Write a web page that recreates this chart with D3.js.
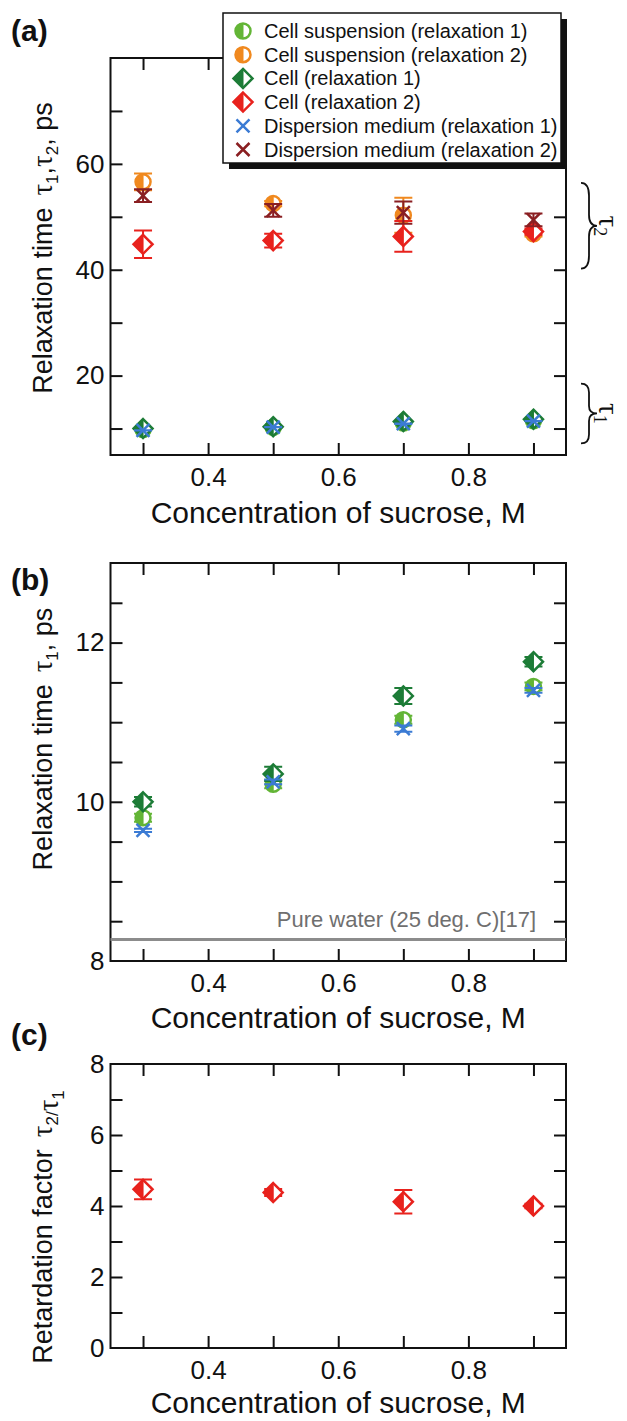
<!DOCTYPE html>
<html>
<head>
<meta charset="utf-8">
<script src="https://cdn.jsdelivr.net/npm/d3@7"></script>
<style>
  body { margin: 0; background: #fff; }
  text { font-family: "Liberation Sans", Arial, sans-serif; }
</style>
</head>
<body>
<svg id="chart" width="627" height="1421"></svg>
<script>
// sucrose concentration, M
const conc = [0.3, 0.5, 0.7, 0.9];

// relaxation 1, ps
const cellSusp1 = [9.8, 10.22, 11.03, 11.45];
const cellSusp1Err = [0.05, 0.05, 0.05, 0.05];
const cell1 = [10.0, 10.35, 11.33, 11.76];
const cell1Err = [0.06, 0.09, 0.1, 0.06];
const disp1 = [9.64, 10.25, 10.92, 11.4];
const disp1Err = [0.02, 0.03, 0.04, 0.03];

// relaxation 2, ps
const cellSusp2 = [56.6, 52.5, 50.3, 46.8];
const cellSusp2Err = [1.6, 0.5, 3.3, 0.5];
const cell2 = [44.8, 45.5, 46.3, 47.2];
const cell2Err = [2.6, 1.3, 2.9, 0.6];
const disp2 = [54.0, 51.2, 50.8, 49.4];
const disp2Err = [1.2, 1.2, 2.1, 1.2];

// retardation factor tau2/tau1 (cell)
const ratio = [4.47, 4.38, 4.12, 4.0];
const ratioErr = [0.28, 0.1, 0.33, 0.06];

// pure water tau1 (25 deg. C)
const pureWater = 8.27;

// legend
const seriesNames = [
  "Cell suspension (relaxation 1)",
  "Cell suspension (relaxation 2)",
  "Cell (relaxation 1)",
  "Cell (relaxation 2)",
  "Dispersion medium (relaxation 1)",
  "Dispersion medium (relaxation 2)"
];
const seriesShapes = ["circle", "circle", "diamond", "diamond", "cross", "cross"];
const seriesColors = ["#63b536", "#f0891f", "#1d7c37", "#e8221d", "#3b7bd4", "#8a1f22"];

// ticks
const xTicks = [0.3, 0.4, 0.5, 0.6, 0.7, 0.8, 0.9];
const xLabels = [0.4, 0.6, 0.8];
const yTicksA = [10, 20, 30, 40, 50, 60, 70];
const yLabelsA = [20, 40, 60];
const yTicksB = [8.5, 9, 9.5, 10, 10.5, 11, 11.5, 12, 12.5];
const yLabelsB = [8, 10, 12];
const yTicksC = [1, 2, 3, 4, 5, 6, 7];
const yLabelsC = [0, 2, 4, 6, 8];

// brace ranges in panel (a)
const braceTau2 = [40.2, 56.4];
const braceTau1 = [7.2, 18.5];

const svg = d3.select("#chart");

const x = d3.scaleLinear().domain([0.25, 0.95]).range([110.5, 566]);
const yA = d3.scaleLinear().domain([5, 80]).range([455, 58]);
const yB = d3.scaleLinear().domain([8, 13]).range([961, 563]);
const yC = d3.scaleLinear().domain([0, 8]).range([1348, 1064]);

const has = (arr, v) => arr.some(a => Math.abs(a - v) < 1e-9);

function drawFrame(y, yTicks, yLabels, yFmt) {
  const [y0, y1] = y.range();
  const g = svg.append("g");
  const allY = yTicks.concat(yLabels.filter(v => !has(yTicks, v)));

  g.append("g")
    .attr("transform", "translate(0," + y0 + ")")
    .call(d3.axisBottom(x).tickValues(xTicks).tickSize(-12).tickPadding(13)
      .tickFormat(d => has(xLabels, d) ? d3.format(".1f")(d) : ""));
  g.append("g")
    .attr("transform", "translate(0," + y1 + ")")
    .call(d3.axisTop(x).tickValues(xTicks).tickSize(-12).tickFormat(""));
  g.append("g")
    .attr("transform", "translate(" + x.range()[0] + ",0)")
    .call(d3.axisLeft(y).tickValues(allY).tickSize(-12).tickPadding(6)
      .tickFormat(d => has(yLabels, d) ? yFmt(d) : ""));
  g.append("g")
    .attr("transform", "translate(" + x.range()[1] + ",0)")
    .call(d3.axisRight(y).tickValues(allY).tickSize(-12).tickFormat(""));

  g.selectAll(".domain").remove();
  g.selectAll(".tick line").attr("stroke", "#111").attr("stroke-width", 2);
  g.selectAll(".tick text")
    .attr("font-size", 26)
    .attr("fill", "#111")
    .style("font-family", "'Liberation Sans', Arial, sans-serif");
  // hide ticks sitting on the frame edges
  g.selectAll(".tick").filter(d => d === y.domain()[0] || d === y.domain()[1])
    .select("line").remove();

  g.append("rect")
    .attr("x", x.range()[0]).attr("y", y1)
    .attr("width", x.range()[1] - x.range()[0]).attr("height", y0 - y1)
    .attr("fill", "none").attr("stroke", "#111").attr("stroke-width", 2);
  return g;
}

function xTitle(yPos) {
  svg.append("text")
    .attr("x", (x.range()[0] + x.range()[1]) / 2)
    .attr("y", yPos)
    .attr("text-anchor", "middle")
    .attr("font-size", 30)
    .attr("fill", "#111")
    .text("Concentration of sucrose, M");
}

function yTitle(cy, parts) {
  const t = svg.append("text")
    .attr("transform", "translate(52," + cy + ") rotate(-90)")
    .attr("text-anchor", "middle")
    .attr("font-size", 27)
    .attr("fill", "#111");
  parts.forEach(p => {
    const s = t.append("tspan").text(p.t);
    if (p.gap) s.attr("dx", p.gap);
    if (p.serif) s.style("font-family", "'Liberation Serif', serif").attr("font-size", 29);
    if (p.sub) s.attr("font-size", 17).attr("dy", 6);
    if (p.up) s.attr("dy", -6);
  });
}

function panelLabel(txt, yPos) {
  svg.append("text")
    .attr("x", 11).attr("y", yPos)
    .attr("font-size", 30).attr("font-weight", "bold").attr("fill", "#111")
    .text(txt);
}

function marker(g, shape, color, cx, cy) {
  if (shape === "circle") {
    const r = 7.5;
    g.append("circle").attr("cx", cx).attr("cy", cy).attr("r", r)
      .attr("fill", "#fff").attr("stroke", color).attr("stroke-width", 2.5);
    g.append("path")
      .attr("d", `M${cx},${cy - r} A${r},${r} 0 0 0 ${cx},${cy + r} Z`)
      .attr("fill", color).attr("stroke", color).attr("stroke-width", 1);
  } else if (shape === "diamond") {
    const s = 9.5;
    g.append("path")
      .attr("d", `M${cx},${cy - s} L${cx + s},${cy} L${cx},${cy + s} L${cx - s},${cy} Z`)
      .attr("fill", "#fff").attr("stroke", color).attr("stroke-width", 2.5);
    g.append("path")
      .attr("d", `M${cx},${cy - s} L${cx - s},${cy} L${cx},${cy + s} Z`)
      .attr("fill", color).attr("stroke", color).attr("stroke-width", 1);
  } else {
    const s = 6.5;
    g.append("path")
      .attr("d", `M${cx - s},${cy - s} L${cx + s},${cy + s} M${cx - s},${cy + s} L${cx + s},${cy - s}`)
      .attr("stroke", color).attr("stroke-width", 2.5).attr("fill", "none");
  }
}

function drawSeries(y, values, errs, shape, color) {
  const g = svg.append("g");
  values.forEach((v, i) => {
    const cx = x(conc[i]);
    const top = y(v + errs[i]), bot = y(v - errs[i]);
    g.append("path")
      .attr("d", `M${cx},${top} V${bot} M${cx - 9},${top} H${cx + 9} M${cx - 9},${bot} H${cx + 9}`)
      .attr("stroke", color).attr("stroke-width", 2).attr("fill", "none");
    marker(g, shape, color, cx, y(v));
  });
}

function brace(y, range) {
  const x0 = 581, w = 16;
  const ya = y(range[1]), yb = y(range[0]), ym = (ya + yb) / 2;
  const xm = x0 + w * 0.5;
  const d = `M${x0},${ya} Q${xm},${ya} ${xm},${ya + (ym - ya) * 0.3}
    L${xm},${ym - (ym - ya) * 0.25} Q${xm},${ym} ${x0 + w},${ym}
    Q${xm},${ym} ${xm},${ym + (yb - ym) * 0.25}
    L${xm},${yb - (yb - ym) * 0.3} Q${xm},${yb} ${x0},${yb}`;
  svg.append("path").attr("d", d).attr("fill", "none")
    .attr("stroke", "#111").attr("stroke-width", 1.8);
  return ym;
}

function tauLabel(ym, sub) {
  const t = svg.append("text")
    .attr("transform", "translate(599," + ym + ") rotate(90)")
    .attr("text-anchor", "middle")
    .attr("fill", "#111");
  t.append("tspan").style("font-family", "'Liberation Serif', serif").attr("font-size", 29).text("τ");
  t.append("tspan").style("font-family", "'Liberation Serif', serif").attr("font-size", 18).attr("dy", 5).text(sub);
}

// ---------- panel (a) ----------
drawFrame(yA, yTicksA, yLabelsA, d3.format("d"));
const setsA = [
  [cellSusp1, cellSusp1Err], [cellSusp2, cellSusp2Err],
  [cell1, cell1Err], [cell2, cell2Err],
  [disp1, disp1Err], [disp2, disp2Err]
];
setsA.forEach((s, i) => drawSeries(yA, s[0], s[1], seriesShapes[i], seriesColors[i]));

tauLabel(brace(yA, braceTau2), "2");
tauLabel(brace(yA, braceTau1), "1");

// legend with drop shadow
const lg = svg.append("g");
lg.append("rect").attr("x", 229).attr("y", 19).attr("width", 338).attr("height", 150).attr("fill", "#111");
lg.append("rect").attr("x", 223).attr("y", 13).attr("width", 338).attr("height", 150)
  .attr("fill", "#fff").attr("stroke", "#111").attr("stroke-width", 1.5);
seriesNames.forEach((name, i) => {
  const cy = 31 + i * 23.7;
  marker(lg, seriesShapes[i], seriesColors[i], 243, cy);
  lg.append("text").attr("x", 264).attr("y", cy + 7)
    .attr("font-size", 20).attr("fill", "#111").text(name);
});

xTitle(523);
yTitle(248, [
  { t: "Relaxation time" }, { t: "τ", serif: true, gap: 12 }, { t: "1", sub: true },
  { t: ",", up: true }, { t: "τ", serif: true }, { t: "2", sub: true },
  { t: ", ps", up: true }
]);
panelLabel("(a)", 41);

// ---------- panel (b) ----------
drawFrame(yB, yTicksB, yLabelsB, d3.format("d"));
svg.append("line")
  .attr("x1", x.range()[0]).attr("x2", x.range()[1])
  .attr("y1", yB(pureWater)).attr("y2", yB(pureWater))
  .attr("stroke", "#8c8c8c").attr("stroke-width", 3);
svg.append("text")
  .attr("x", 536).attr("y", yB(pureWater) - 13)
  .attr("text-anchor", "end").attr("font-size", 22).attr("fill", "#6f6f6f")
  .text("Pure water (25 deg. C)[17]");
drawSeries(yB, cellSusp1, cellSusp1Err, seriesShapes[0], seriesColors[0]);
drawSeries(yB, cell1, cell1Err, seriesShapes[2], seriesColors[2]);
drawSeries(yB, disp1, disp1Err, seriesShapes[4], seriesColors[4]);

xTitle(1028);
yTitle(739, [
  { t: "Relaxation time" }, { t: "τ", serif: true, gap: 12 }, { t: "1", sub: true },
  { t: ", ps", up: true }
]);
panelLabel("(b)", 590);

// ---------- panel (c) ----------
drawFrame(yC, yTicksC, yLabelsC, d3.format("d"));
drawSeries(yC, ratio, ratioErr, seriesShapes[3], seriesColors[3]);

xTitle(1413);
yTitle(1227, [
  { t: "Retardation factor" }, { t: "τ", serif: true, gap: 12 }, { t: "2/", sub: true },
  { t: "τ", serif: true }, { t: "1", sub: true }
]);
panelLabel("(c)", 1045);
</script>
</body>
</html>
